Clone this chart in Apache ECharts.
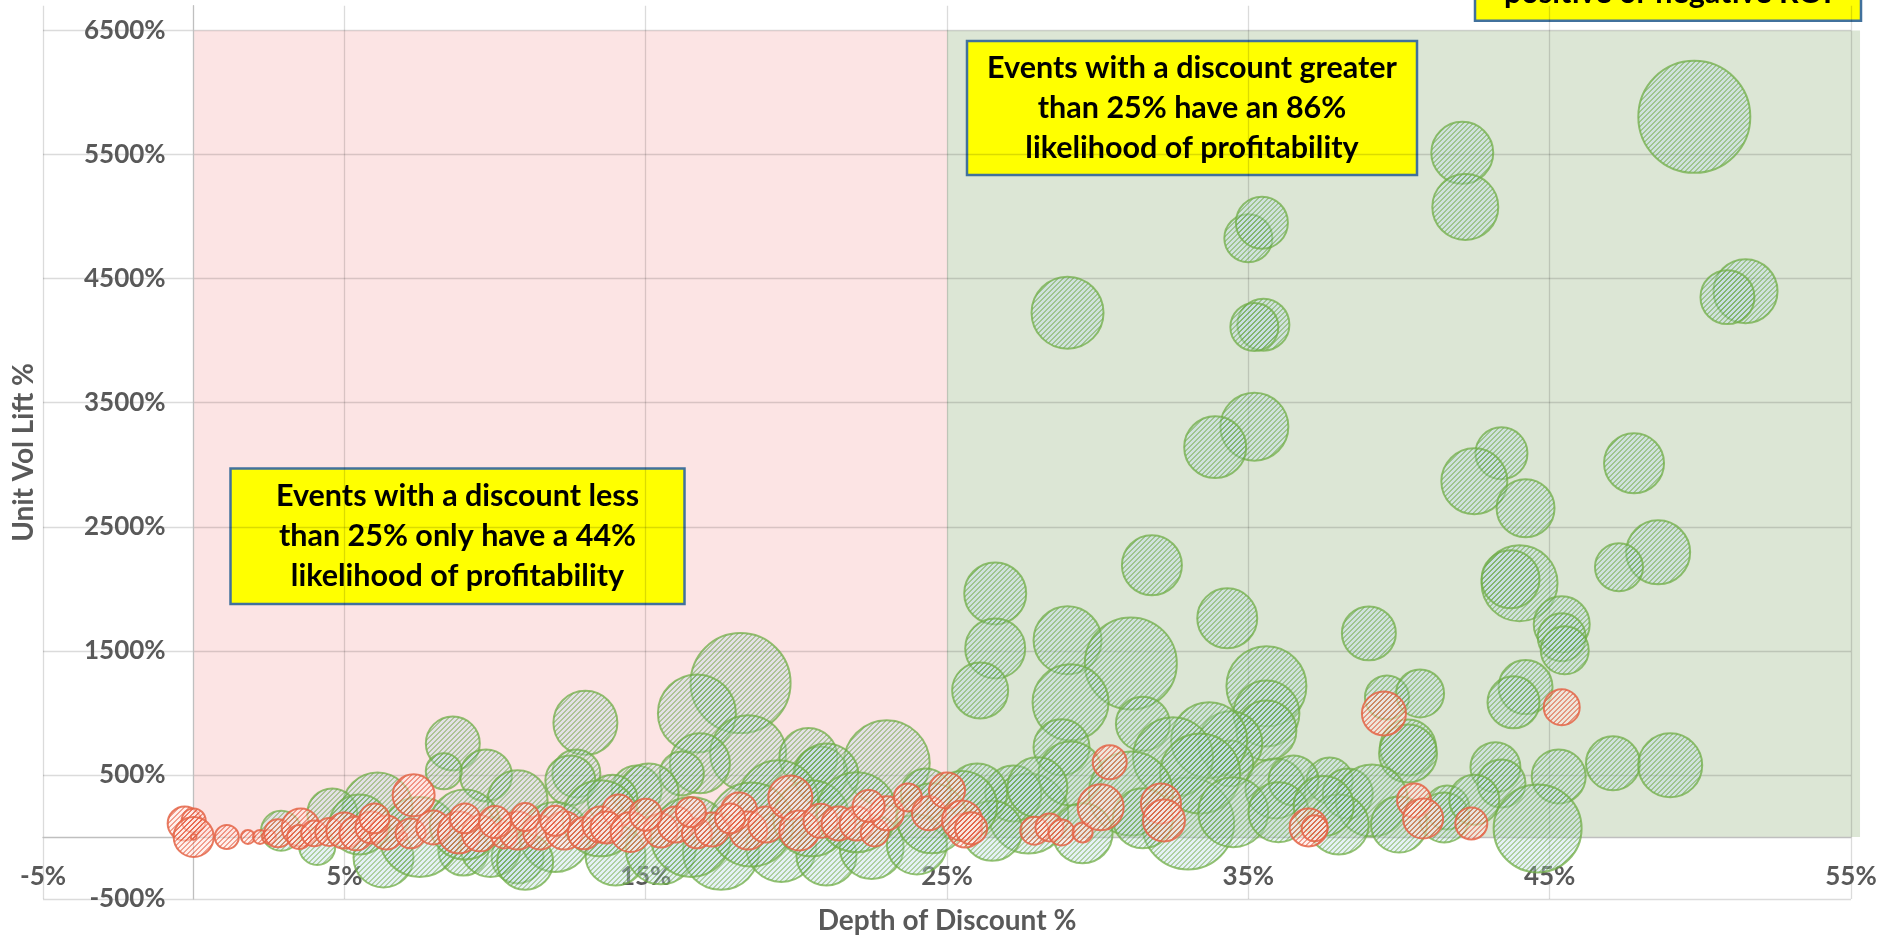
<!DOCTYPE html>
<html>
<head>
<meta charset="utf-8">
<title>Depth of Discount vs Unit Vol Lift</title>
<script src="https://cdn.jsdelivr.net/npm/echarts@6/dist/echarts.min.js"></script>
<style>
  html, body { margin: 0; padding: 0; background: #ffffff; }
  #chart { width: 1883px; height: 938px; }
</style>
</head>
<body>
<div id="chart"></div>
<script>
// Promotion events: [depth of discount %, unit volume lift %, event volume (bubble size)]
const profitableEvents = [
  [49.8, 5804, 784], [42.1, 5514, 240], [42.2, 5078, 272], [35.0, 4826, 144], [35.45, 4951, 169],
  [51.5, 4399, 256], [50.9, 4351, 182], [29.0, 4226, 324], [35.5, 4129, 169], [35.2, 4110, 144],
  [35.2, 3307, 289], [33.9, 3142, 240], [43.4, 3093, 169], [42.5, 2867, 272], [44.2, 2650, 210],
  [47.8, 3012, 225], [48.6, 2294, 256], [47.3, 2174, 144], [31.8, 2190, 225], [26.6, 1963, 240],
  [26.6, 1520, 225], [26.1, 1181, 196], [29.0, 1585, 289], [31.1, 1399, 529], [29.1, 1085, 361],
  [31.5, 912, 182], [28.8, 723, 196], [34.3, 1762, 225], [39.0, 1641, 182], [44.0, 2045, 361],
  [43.7, 2077, 210], [45.4, 1714, 196], [45.4, 1609, 144], [45.5, 1504, 144], [35.6, 1214, 400],
  [35.6, 996, 272], [35.6, 859, 225], [39.6, 1125, 121], [40.7, 1157, 144], [44.2, 1208, 182],
  [43.8, 1085, 169], [40.3, 722, 196], [40.3, 673, 210], [34.4, 756, 256], [34.4, 593, 132],
  [33.7, 780, 361], [35.9, 391, 225], [37.7, 456, 132], [38.3, 351, 156], [39.1, 294, 324],
  [33.0, 109, 529], [27.7, 190, 400], [43.2, 562, 156], [43.4, 431, 144], [45.3, 488, 182],
  [47.1, 594, 182], [49.0, 578, 256], [44.6, 69, 484], [41.6, 238, 121], [36.5, 456, 156],
  [41.5, 157, 156], [27.2, 351, 196], [26.0, 351, 225], [29.1, 512, 256], [32.5, 643, 400],
  [33.4, 512, 400], [31.1, 351, 441], [31.5, 150, 225], [34.5, 200, 306], [36.0, 200, 225],
  [38.0, 100, 225], [40.0, 100, 196], [42.5, 300, 156], [26.5, 50, 225], [29.5, 30, 225],
  [37.5, 250, 225], [25.5, 250, 306], [28.0, 400, 225],
  [18.15, 1240, 625], [16.7, 996, 380], [18.4, 675, 361], [16.8, 594, 225], [16.2, 512, 121],
  [13.0, 920, 256], [12.7, 512, 144], [8.6, 754, 182], [9.7, 496, 169], [8.3, 530, 81],
  [12.5, 456, 156], [10.75, 296, 225], [6.1, 238, 306], [4.6, 190, 156], [2.9, 50, 100],
  [6.3, -165, 225], [4.1, -80, 81], [8.95, -110, 156], [10.75, -165, 169], [9.85, -80, 225],
  [23.0, 594, 462], [20.4, 645, 210], [20.8, 512, 182], [21.0, 496, 256], [19.4, 296, 400],
  [14.7, 375, 156], [15.1, 351, 225], [13.9, 300, 156], [24.3, 351, 156], [14.0, -150, 225],
  [15.5, -100, 306], [17.5, -120, 361], [19.5, -80, 306], [21.0, -150, 225], [22.5, -80, 256],
  [24.0, -60, 225], [16.5, 0, 400], [18.5, 100, 441], [20.5, 150, 361], [12.0, 0, 306],
  [11.0, -200, 196], [7.5, 0, 400], [5.5, 100, 225], [9.0, 100, 306], [13.5, 150, 361],
  [22.0, 200, 400], [24.5, 150, 306]
];

const unprofitableEvents = [
  [-0.3, 109, 72], [0.0, 133, 36], [0.0, 0, 100], [0.0, 0, 2], [1.1, 0, 36],
  [1.8, 0, 12], [2.2, 0, 12], [2.5, 0, 12], [2.8, 29, 49], [3.55, 77, 90],
  [3.5, 0, 36], [4.0, 29, 42], [4.5, 40, 49], [5.0, 52, 81], [5.4, 29, 72],
  [5.9, 77, 64], [6.4, 36, 72], [6.95, 5, 4], [7.3, 336, 110], [7.2, 29, 56],
  [7.95, 77, 72], [8.8, 36, 110], [9.5, 29, 81], [10.3, 12, 42], [10.75, 52, 90],
  [11.5, 36, 72], [12.3, 52, 90], [12.95, 29, 64], [13.5, 100, 81], [14.1, 214, 64],
  [13.7, 77, 64], [14.5, 40, 100], [15.5, 52, 72], [16.0, 100, 81], [16.7, 29, 56],
  [17.2, 60, 72], [18.1, 214, 81], [18.4, 52, 90], [19.0, 100, 81], [19.8, 319, 121],
  [20.1, 52, 100], [20.8, 130, 72], [21.4, 109, 72], [22.0, 109, 72], [22.6, 36, 49],
  [23.0, 191, 72], [23.7, 319, 49], [24.4, 191, 72], [25.0, 375, 81], [25.6, 52, 72],
  [25.5, 133, 100], [25.8, 70, 64], [9.0, 150, 56], [10.0, 120, 64], [11.0, 160, 49],
  [12.0, 130, 56], [6.0, 150, 56], [15.0, 180, 64], [16.5, 200, 56], [17.8, 150, 56],
  [22.4, 250, 64], [27.9, 50, 49], [28.4, 77, 49], [28.8, 36, 42], [29.5, 36, 25],
  [30.1, 240, 132], [30.4, 602, 72], [32.1, 270, 100], [32.2, 133, 110], [37.0, 77, 90],
  [37.2, 70, 42], [39.5, 996, 121], [40.5, 294, 72], [40.8, 149, 100], [42.4, 109, 64],
  [45.4, 1046, 81]
];

// Shaded discount zones: [from discount %, to discount %, from lift %, to lift %]
const zones = [
  [0, 25, 0, 6500],
  [25, 55.3, 0, 6500]
];

// Axis ticks
const discountTicks = [-5, 5, 15, 25, 35, 45, 55];
const liftTicks = [-500, 500, 1500, 2500, 3500, 4500, 5500, 6500];
const liftAxisTop = 6700;

// Call-out texts
const noteLow = 'Events with a discount less\nthan 25% only have a 44%\nlikelihood of profitability';
const noteHigh = 'Events with a discount greater\nthan 25% have an 86%\nlikelihood of profitability';
const noteKey = 'positive or negative ROI';

// ---- styling helpers ----
// Pixel-crisp upward diagonal hatch tile
function hatch(base, stripe, size, width) {
  const c = document.createElement('canvas');
  c.width = size; c.height = size;
  const ctx = c.getContext('2d');
  for (let y = 0; y < size; y++) {
    for (let x = 0; x < size; x++) {
      ctx.fillStyle = ((x + y) % size) < width ? stripe : base;
      ctx.fillRect(x, y, 1, 1);
    }
  }
  return c;
}

const greenFill = { image: hatch('rgba(190,220,232,0.4)', 'rgba(110,170,85,0.55)', 5, 2), repeat: 'repeat' };
const redFill = { image: hatch('rgba(255,230,224,0.55)', 'rgba(232,100,75,0.62)', 5, 2), repeat: 'repeat' };
const greenEdge = 'rgba(112,173,71,0.75)';
const redEdge = 'rgba(228,100,70,0.85)';
const zoneColors = ['#FCE4E4', '#DCE6D5'];

const fontFamily = 'Lato';
const axisText = { fontFamily, fontWeight: 'bold', fontSize: 26, color: '#595959' };
const titleText = { fontFamily, fontWeight: 'bold', fontSize: 28, color: '#595959' };
const gridLine = 'rgba(0,0,0,0.14)';
const noteFont = 'bold 30.5px Lato';

const pct = v => v + '%';

// One split-line colour per lift tick, the extra axis top line kept invisible
const liftLineColors = liftTicks.map(() => gridLine).concat(['rgba(0,0,0,0)']);

// Bubbles are drawn as true-pixel circles so the hatch stays fine-grained;
// radius grows with the square root of the event volume (area ~ volume)
function bubbleSeries(name, data, fill, edge) {
  return {
    type: 'custom',
    name,
    data,
    clip: true,
    silent: true,
    encode: { x: 0, y: 1 },
    renderItem: function (params, api) {
      const p = api.coord([api.value(0), api.value(1)]);
      const r = 2 * Math.sqrt(api.value(2));
      return {
        type: 'circle',
        shape: { cx: p[0], cy: p[1], r },
        style: { fill, stroke: edge, lineWidth: 2 }
      };
    }
  };
}

const chart = echarts.init(document.getElementById('chart'));

function callout(x, y, w, h, text) {
  return {
    type: 'group',
    children: [
      { type: 'rect', shape: { x, y, width: w, height: h },
        style: { fill: '#FFFF00', stroke: '#41719C', lineWidth: 2.5 } },
      { type: 'text', x: x + w / 2, y: y + h / 2,
        style: { text, font: noteFont, fill: '#000000',
                 align: 'center', verticalAlign: 'middle',
                 textAlign: 'center', textVerticalAlign: 'middle', lineHeight: 40 } }
    ]
  };
}

chart.setOption({
  animation: false,
  backgroundColor: '#ffffff',
  grid: { left: 43, right: 32, top: 5.7, bottom: 39, containLabel: false, outerBoundsMode: 'none' },
  xAxis: {
    type: 'value',
    min: discountTicks[0],
    max: discountTicks[discountTicks.length - 1],
    interval: discountTicks[1] - discountTicks[0],
    axisLine: { show: true, onZero: false, lineStyle: { color: '#BFBFBF', width: 1.3 } },
    axisTick: { show: false },
    axisLabel: Object.assign({ formatter: pct, margin: 27 }, axisText),
    splitLine: { show: true, lineStyle: { color: gridLine, width: 1.3 } },
    name: 'Depth of Discount %',
    nameLocation: 'middle',
    nameGap: 70,
    nameTextStyle: titleText
  },
  yAxis: {
    type: 'value',
    min: liftTicks[0],
    max: liftAxisTop,
    interval: liftTicks[1] - liftTicks[0],
    axisLine: { show: true, onZero: false, lineStyle: { color: '#BFBFBF', width: 1.3 } },
    axisTick: { show: false },
    axisLabel: Object.assign({ formatter: pct, margin: 28, showMaxLabel: false }, axisText),
    splitLine: { show: true, lineStyle: { color: liftLineColors, width: 1.3 } },
    name: 'Unit Vol Lift %',
    nameLocation: 'middle',
    nameRotate: 90,
    nameGap: 156,
    nameTextStyle: titleText
  },
  series: [
    {
      type: 'custom',
      name: 'Zones',
      z: -1,
      clip: false,
      silent: true,
      data: zones,
      encode: { x: [0, 1], y: [2, 3] },
      renderItem: function (params, api) {
        const p0 = api.coord([api.value(0), api.value(3)]);
        const p1 = api.coord([api.value(1), api.value(2)]);
        return {
          type: 'rect',
          shape: { x: p0[0], y: p0[1], width: p1[0] - p0[0], height: p1[1] - p0[1] },
          style: { fill: zoneColors[params.dataIndex] }
        };
      }
    },
    bubbleSeries('Positive ROI', profitableEvents, greenFill, greenEdge),
    bubbleSeries('Negative ROI', unprofitableEvents, redFill, redEdge)
  ],
  graphic: [
    callout(230.5, 468.5, 454, 135.5, noteLow),
    callout(967, 41, 450, 134, noteHigh),
    {
      type: 'group',
      children: [
        { type: 'rect', shape: { x: 1475, y: -110, width: 386, height: 130.7 },
          style: { fill: '#FFFF00', stroke: '#41719C', lineWidth: 2.5 } },
        { type: 'text', x: 1668, y: -7,
          style: { text: noteKey, font: noteFont, fill: '#000000',
                   align: 'center', verticalAlign: 'middle',
                   textAlign: 'center', textVerticalAlign: 'middle' } }
      ]
    }
  ]
});

// Both axes cross at the origin: shift each axis (line and labels) onto the other's zero
const origin = chart.convertToPixel({ gridIndex: 0 }, [0, 0]);
const corner = chart.convertToPixel({ gridIndex: 0 }, [discountTicks[0], liftTicks[0]]);
chart.setOption({
  xAxis: { offset: -(corner[1] - origin[1]) },
  yAxis: { offset: -(origin[0] - corner[0]) }
});
</script>
</body>
</html>
